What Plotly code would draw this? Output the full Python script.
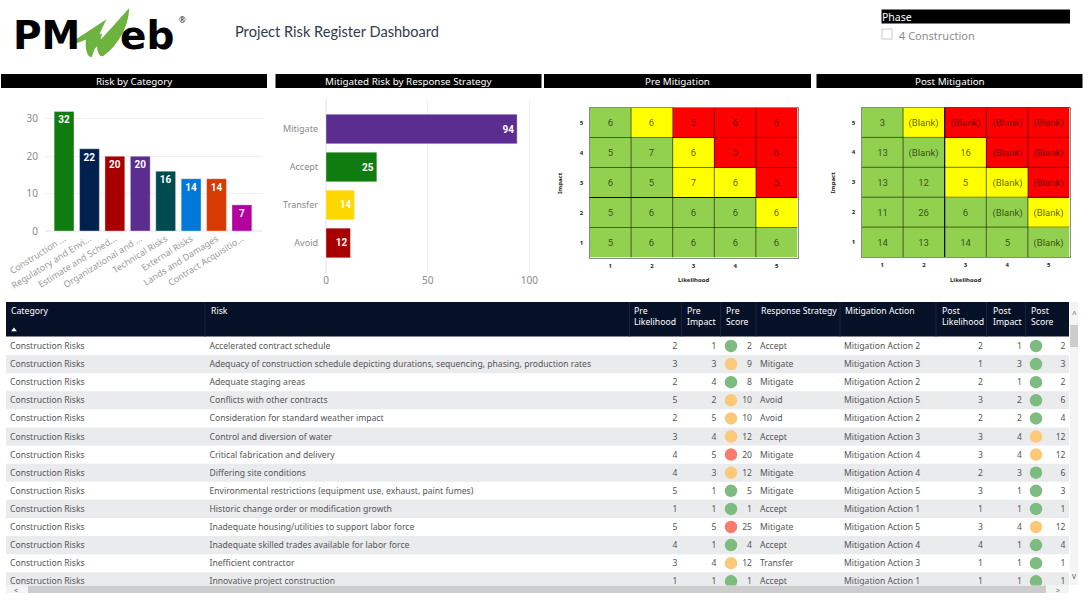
import plotly.graph_objects as go

W = 1089
H = 604

# charts
categories = ["Construction ...", "Regulatory and Envi...", "Estimate and Sched...", "Organizational and ...",
              "Technical Risks", "External Risks", "Lands and Damages", "Contract Acquisitio..."]
category_counts = [32, 22, 20, 20, 16, 14, 14, 7]
category_colors = ["#107C10", "#002050", "#A80000", "#5C2D91", "#004B50", "#0078D7", "#D83B01", "#B4009E"]

strategies = ["Mitigate", "Accept", "Transfer", "Avoid"]
strategy_counts = [94, 25, 14, 12]
strategy_colors = ["#5C2D91", "#107C10", "#FFD700", "#A80000"]

# risk matrices, first row is impact 1
likelihood = [1, 2, 3, 4, 5]
impact = [1, 2, 3, 4, 5]
risk_level = [[0, 0, 0, 0, 0],
              [0, 0, 0, 0, 1],
              [0, 0, 1, 1, 2],
              [0, 0, 1, 2, 2],
              [0, 1, 2, 2, 2]]
pre_counts = [[5, 6, 6, 6, 6],
              [5, 6, 6, 6, 6],
              [6, 5, 7, 6, 5],
              [5, 7, 6, 5, 6],
              [6, 6, 5, 6, 6]]
post_counts = [[14, 13, 14, 5, "(Blank)"],
               [11, 26, 6, "(Blank)", "(Blank)"],
               [13, 12, 5, "(Blank)", "(Blank)"],
               [13, "(Blank)", 16, "(Blank)", "(Blank)"],
               [3, "(Blank)", "(Blank)", "(Blank)", "(Blank)"]]

# table
risk_category = ["Construction Risks"] * 14
risks = ["Accelerated contract schedule",
         "Adequacy of construction schedule depicting durations, sequencing, phasing, production rates",
         "Adequate staging areas",
         "Conflicts with other contracts",
         "Consideration for standard weather impact",
         "Control and diversion of water",
         "Critical fabrication and delivery",
         "Differing site conditions",
         "Environmental restrictions (equipment use, exhaust, paint fumes)",
         "Historic change order or modification growth",
         "Inadequate housing/utilities to support labor force",
         "Inadequate skilled trades available for labor force",
         "Inefficient contractor",
         "Innovative project construction"]
pre_likelihood = [2, 3, 2, 5, 2, 3, 4, 4, 5, 1, 5, 4, 3, 1]
pre_impact = [1, 3, 4, 2, 5, 4, 5, 3, 1, 1, 5, 1, 4, 1]
pre_score = [2, 9, 8, 10, 10, 12, 20, 12, 5, 1, 25, 4, 12, 1]
response = ["Accept", "Mitigate", "Mitigate", "Avoid", "Avoid", "Accept", "Mitigate", "Mitigate", "Mitigate",
            "Accept", "Mitigate", "Accept", "Transfer", "Accept"]
action = ["Mitigation Action 2", "Mitigation Action 3", "Mitigation Action 2", "Mitigation Action 5",
          "Mitigation Action 2", "Mitigation Action 3", "Mitigation Action 4", "Mitigation Action 4",
          "Mitigation Action 5", "Mitigation Action 1", "Mitigation Action 5", "Mitigation Action 4",
          "Mitigation Action 3", "Mitigation Action 1"]
post_likelihood = [2, 1, 2, 3, 2, 3, 3, 2, 3, 1, 3, 4, 1, 1]
post_impact = [1, 3, 1, 2, 2, 4, 4, 3, 1, 1, 4, 1, 1, 1]
post_score = [2, 3, 2, 6, 4, 12, 12, 6, 3, 1, 12, 4, 1, 1]

headers = ["Category", "Risk", "Pre<br>Likelihood", "Pre<br>Impact", "Pre<br>Score", "Response Strategy",
           "Mitigation Action", "Post<br>Likelihood", "Post<br>Impact", "Post<br>Score"]
header_x = [10, 209.5, 633, 685.5, 725, 760, 844, 940.5, 991.5, 1030]
divider_x = [205, 629.5, 681.5, 720.5, 756, 840, 936, 986.5, 1025.5]

FONT = "Noto Sans"
TABLE_LEFT = 6
TABLE_RIGHT = 1069
ROW_TOP = 346
ROW_STEP = 18.1


def dx(a, b):
    return [a / W, b / W]


def dy(top, bottom):
    return [1 - bottom / H, 1 - top / H]


def score_color(score):
    if score >= 20:
        return "#F87C6C"
    if score >= 9:
        return "#FCC87A"
    return "#7DBB80"


fig = go.Figure()

fig.add_trace(go.Bar(x=categories, y=category_counts, text=category_counts, xaxis="x", yaxis="y",
                     marker=dict(color=category_colors, line=dict(color="rgba(255,255,255,0.35)", width=1)),
                     textposition="inside", insidetextanchor="end", textangle=0,
                     textfont=dict(family="Roboto", size=10, color="white", weight="bold")))
fig.add_trace(go.Bar(x=strategy_counts, y=strategies, text=strategy_counts, orientation="h", xaxis="x2", yaxis="y2",
                     marker=dict(color=strategy_colors, line=dict(color="rgba(255,255,255,0.35)", width=1)),
                     textposition="inside", insidetextanchor="end", textangle=0,
                     textfont=dict(family="Roboto", size=10, color="white", weight="bold")))


def add_matrix(counts, xa, ya):
    fig.add_trace(go.Heatmap(x=likelihood, y=impact, z=risk_level, text=counts, texttemplate="%{text}",
                             xaxis=xa, yaxis=ya, zmin=0, zmax=2, showscale=False,
                             colorscale=[[0, "#92D050"], [0.5, "#FFFF00"], [1, "#FF0000"]],
                             textfont=dict(family="Roboto", size=9.5, color="rgba(0,0,0,0.65)")))
    for b in likelihood[:-1]:
        fig.add_shape(type="line", xref=xa, yref=ya, x0=b + 0.5, x1=b + 0.5, y0=0.5, y1=5.5,
                      line=dict(color="rgba(0,0,0,0.55)", width=1))
    for b in impact[:-1]:
        fig.add_shape(type="line", xref=xa, yref=ya, x0=0.5, x1=5.5, y0=b + 0.5, y1=b + 0.5,
                      line=dict(color="rgba(0,0,0,0.55)", width=1))


add_matrix(pre_counts, "x3", "y3")
add_matrix(post_counts, "x4", "y4")
# the darker lines
fig.add_shape(type="line", xref="x3", yref="y3", x0=0.5, x1=5.5, y0=2.5, y1=2.5, line=dict(color="black", width=1))
fig.add_shape(type="line", xref="x4", yref="y4", x0=2.5, x1=2.5, y0=0.5, y1=5.5, line=dict(color="black", width=1))
fig.add_shape(type="line", xref="x4", yref="y4", x0=2.5, x1=5.5, y0=5.5, y1=5.5, line=dict(color="black", width=1))

# table body
rows = list(range(len(risks)))
for i in rows[1::2]:
    fig.add_shape(type="rect", xref="x5", yref="y6", x0=TABLE_LEFT, x1=TABLE_RIGHT, y0=i - 0.5, y1=i + 0.5,
                  fillcolor="#EAEBED", line_width=0, layer="below")


def add_text_column(x, values, anchor):
    fig.add_trace(go.Scatter(x=[x] * len(values), y=[r + 0.05 for r in rows], text=values, mode="text",
                             xaxis="x5", yaxis="y6", textposition="middle " + anchor, hoverinfo="skip",
                             textfont=dict(family=FONT, size=8.6, color="#555555")))


add_text_column(header_x[0], risk_category, "right")
add_text_column(header_x[1], risks, "right")
add_text_column(677.5, pre_likelihood, "left")
add_text_column(716.5, pre_impact, "left")
add_text_column(752, pre_score, "left")
add_text_column(header_x[5], response, "right")
add_text_column(header_x[6], action, "right")
add_text_column(983, post_likelihood, "left")
add_text_column(1022, post_impact, "left")
add_text_column(1065.5, post_score, "left")

for x, scores in [(731, pre_score), (1036, post_score)]:
    fig.add_trace(go.Scatter(x=[x] * len(scores), y=rows, mode="markers", xaxis="x5", yaxis="y6", hoverinfo="skip",
                             marker=dict(size=12.5, color=[score_color(s) for s in scores], line_width=0)))


# page furniture, in pixels on the x5/y5 axes
def rect(x0, y0, x1, y1, color, line=None):
    fig.add_shape(type="rect", xref="x5", yref="y5", x0=x0, y0=y0, x1=x1, y1=y1, fillcolor=color, layer="below",
                  line=dict(color=line or color, width=1 if line else 0))


def label(x, y, text, size=10, color="black", anchor="left", family=FONT, weight="normal", textangle=0):
    fig.add_annotation(xref="x5", yref="y5", x=x, y=y, text=text, showarrow=False, xanchor=anchor, yanchor="middle",
                       textangle=textangle, borderpad=0, borderwidth=0,
                       font=dict(family=family, size=size, color=color, weight=weight), align="left")


for x0, x1, title in [(1, 267, "Risk by Category"), (275.5, 541.5, "Mitigated Risk by Response Strategy"),
                      (544, 811, "Pre Mitigation"), (816.5, 1082.5, "Post Mitigation")]:
    rect(x0, 74, x1, 88, "black")
    label((x0 + x1) / 2, 81.5, title, size=9.8, color="white", anchor="center")

rect(TABLE_LEFT, 302, TABLE_RIGHT, 336.5, "#061128")
for x in divider_x:
    fig.add_shape(type="line", xref="x5", yref="y5", x0=x, x1=x, y0=302, y1=336.5, line=dict(color="#1a2438", width=1))
for x, text in zip(header_x, headers):
    fig.add_annotation(xref="x5", yref="y5", x=x, y=304, text=text, showarrow=False, xanchor="left", yanchor="top",
                       align="left", borderpad=0, font=dict(family=FONT, size=8.7, color="white"))
fig.add_trace(go.Scatter(x=[14], y=[330], mode="markers", xaxis="x5", yaxis="y5", hoverinfo="skip",
                         marker=dict(symbol="triangle-up", size=5, color="white", line_width=0)))

# scrollbars
rect(1070, 302, 1078, 585, "#F4F4F4")
rect(1070, 325, 1078, 347, "#CDCDCD")
label(1074, 313, "^", size=8, color="#666666", anchor="center")
label(1074, 575, "v", size=8, color="#666666", anchor="center")
rect(TABLE_LEFT, 585.5, TABLE_RIGHT, 593, "#F4F4F4")
rect(28, 585.5, 1046, 593, "#CDCDCD")
label(16, 590, "<", size=7, color="#666666", anchor="center")
label(1058, 590, ">", size=7, color="#666666", anchor="center")

# header
label(235, 31.5, "Project Risk Register Dashboard", size=14.6, color="#2f3b4c", family="Lato")
rect(881.5, 9.5, 1070, 23.5, "black")
label(882, 16.5, "Phase", size=10.5, color="white")
rect(882, 29, 892, 39, "white", line="#C8C8C8")
label(899, 35.5, "4 Construction", size=11, color="#8c8c8c")

# logo
label(13, 35, "PM", size=39, family="DejaVu Sans", weight="bold")
label(120, 35, "eb", size=39, family="DejaVu Sans", weight="bold")
fig.add_shape(type="path", xref="x5", yref="y5", layer="above", fillcolor="#6DB33F", line=dict(color="#6DB33F", width=2),
              path="M72,43 L104,22 C99,32 95,42 95,47 C104,38 118,22 128,11 C127,26 118,44 103,55 "
                   "C100,56 98,52 98,45 L101,34 C96,42 93,50 91,56 C87,55 86,46 87,38 C82,40 76,43 72,43 Z")
label(182, 19, "®", size=8, color="#222222", anchor="center")

# matrix axis titles
for x_mid, x_title in [(693.5, 560), (965.5, 832.5)]:
    label(x_mid, 279.5, "<b>Likelihood</b>", size=6, color="#222222", anchor="center")
    label(x_title, 183, "<b>Impact</b>", size=6, color="#222222", anchor="center", textangle=-90)

hidden = dict(visible=False, fixedrange=True)
matrix_axis = dict(showgrid=False, zeroline=False, ticks="", dtick=1, showline=True, mirror=True, linecolor="#8a8a8a",
                   linewidth=1, automargin=False, tickfont=dict(family=FONT, size=6, color="#222222", weight="bold"))

fig.update_layout(
    width=W, height=H, margin=dict(l=0, r=0, t=0, b=0), paper_bgcolor="white", plot_bgcolor="rgba(0,0,0,0)",
    showlegend=False, font=dict(family=FONT),
    xaxis=dict(domain=dx(45, 263), range=[-0.75, 7.83], anchor="y", showgrid=False, showline=False, ticks="",
               automargin=False, dtick=1, tickangle=-32, tickfont=dict(size=9, color="#9a9a9a")),
    yaxis=dict(domain=dy(107, 231), range=[0, 33.2], anchor="x", tickvals=[0, 10, 20, 30], gridcolor="#F0F0F0",
               automargin=False, zeroline=True, zerolinecolor="#F0F0F0", ticklabelstandoff=6,
               tickfont=dict(size=10, color="#8a8a8a")),
    xaxis2=dict(domain=dx(326, 533), range=[0, 101.8], anchor="y2", tickvals=[0, 50, 100], gridcolor="#F0F0F0",
                automargin=False, zeroline=True, zerolinecolor="#F0F0F0", tickfont=dict(size=10, color="#8a8a8a")),
    yaxis2=dict(domain=dy(99, 273), range=[3.79, -0.79], anchor="x2", showgrid=False, ticks="", automargin=False,
                ticklabelstandoff=7, tickfont=dict(size=9, color="#8a8a8a")),
    xaxis3=dict(domain=dx(589.5, 797.5), range=[0.5, 5.5], anchor="y3", ticklabelstandoff=2, **matrix_axis),
    yaxis3=dict(domain=dy(107.5, 257.5), range=[0.5, 5.5], anchor="x3", ticklabelstandoff=4, **matrix_axis),
    xaxis4=dict(domain=dx(861.5, 1069.5), range=[0.5, 5.5], anchor="y4", ticklabelstandoff=2, **matrix_axis),
    yaxis4=dict(domain=dy(107.5, 257), range=[0.5, 5.5], anchor="x4", ticklabelstandoff=4, **matrix_axis),
    xaxis5=dict(domain=[0, 1], range=[0, W], anchor="y5", **hidden),
    yaxis5=dict(domain=[0, 1], range=[H, 0], anchor="x5", **hidden),
    yaxis6=dict(domain=dy(337, 585.5), range=[(585.5 - ROW_TOP) / ROW_STEP, (337 - ROW_TOP) / ROW_STEP], anchor="x5",
                **hidden),
    bargap=0.22,
)

fig.write_html("out.html", post_script="document.body.style.margin='0';", config={"displayModeBar": False})
